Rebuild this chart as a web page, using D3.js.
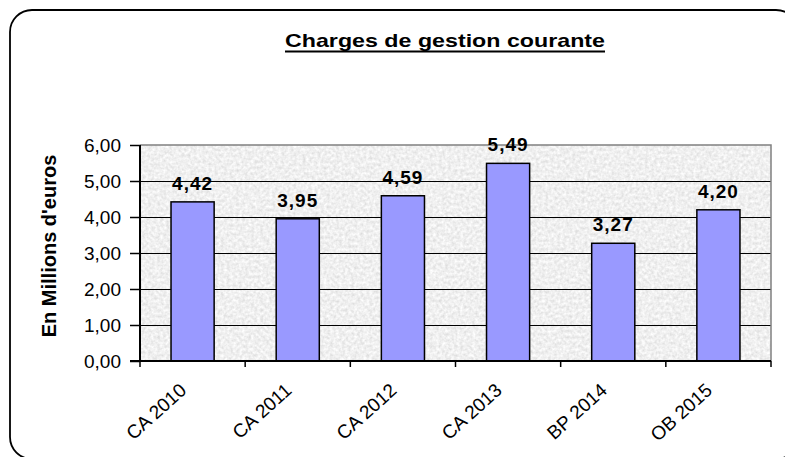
<!DOCTYPE html>
<html>
<head>
<meta charset="utf-8">
<script src="https://cdn.jsdelivr.net/npm/d3@7"></script>
<style>
  html, body { margin: 0; padding: 0; background: #fff; overflow: hidden; }
  svg { display: block; }
  text { font-family: Arial, "Liberation Sans", sans-serif; fill: #000; }
</style>
</head>
<body>
<svg id="chart" width="785" height="457"></svg>
<script>
const title = "Charges de gestion courante";
const yAxisTitle = "En Millions d'euros";
const categories = ["CA 2010", "CA 2011", "CA 2012", "CA 2013", "BP 2014", "OB 2015"];
const values = [4.42, 3.95, 4.59, 5.49, 3.27, 4.20];
const yTicks = [0, 1, 2, 3, 4, 5, 6];

const fmt = v => d3.format(".2f")(v).replace(".", ",");

const svg = d3.select("#chart");
const plot = { left: 140, right: 771, top: 145, bottom: 361 };

// outer rounded frame
svg.append("rect")
  .attr("x", 10).attr("y", 10).attr("width", 788).attr("height", 449)
  .attr("rx", 22).attr("ry", 22)
  .attr("fill", "#fff").attr("stroke", "#000").attr("stroke-width", 1.8);

// texture filter for plot background
const defs = svg.append("defs");
const f = defs.append("filter").attr("id", "granite")
  .attr("x", 0).attr("y", 0).attr("width", 1).attr("height", 1);
f.append("feTurbulence").attr("type", "fractalNoise")
  .attr("baseFrequency", 0.33).attr("numOctaves", 2).attr("seed", 5).attr("result", "n");
f.append("feColorMatrix").attr("in", "n").attr("type", "matrix")
  .attr("values", "0.4 0 0 0 0.67  0.4 0 0 0 0.67  0.4 0 0 0 0.67  0 0 0 0 1");

const x = d3.scaleBand().domain(categories).range([plot.left, plot.right]).padding(0);
const y = d3.scaleLinear().domain([0, 6]).range([plot.bottom, plot.top]);
const step = x.step();
const barW = step * 0.41;

svg.append("rect")
  .attr("x", plot.left).attr("y", plot.top)
  .attr("width", plot.right - plot.left).attr("height", plot.bottom - plot.top)
  .attr("fill", "#e6e6e6").attr("filter", "url(#granite)");

// gridlines
svg.append("g").selectAll("line").data(yTicks.filter(t => t > 0 && t < 6)).join("line")
  .attr("x1", plot.left).attr("x2", plot.right)
  .attr("y1", d => Math.round(y(d)) + 0.5).attr("y2", d => Math.round(y(d)) + 0.5)
  .attr("stroke", "#000").attr("stroke-width", 1.2);

// top & right plot border (gray)
svg.append("path")
  .attr("d", `M${plot.left},${y(6)}H${plot.right}V${plot.bottom}`)
  .attr("fill", "none").attr("stroke", "#808080").attr("stroke-width", 1.5);

// bars
svg.append("g").selectAll("rect").data(values).join("rect")
  .attr("x", (d, i) => x(categories[i]) + (step - barW) / 2)
  .attr("y", d => y(d))
  .attr("width", barW)
  .attr("height", d => y(0) - y(d))
  .attr("fill", "#9999FF").attr("stroke", "#000").attr("stroke-width", 1.5);

// value labels
svg.append("g").selectAll("text").data(values).join("text")
  .attr("x", (d, i) => x(categories[i]) + step / 2)
  .attr("y", d => y(d) - 12)
  .attr("text-anchor", "middle")
  .attr("font-size", 19).attr("font-weight", "bold")
  .attr("letter-spacing", 1)
  .text(d => fmt(d));

// y axis
const yAxis = d3.axisLeft(y).tickValues(yTicks).tickSize(10).tickPadding(9).tickFormat(fmt);
const yg = svg.append("g").attr("transform", `translate(${plot.left},0)`).call(yAxis);
yg.select(".domain").remove();
yg.selectAll(".tick line").attr("stroke", "#000").attr("stroke-width", 1.5);
yg.selectAll(".tick text").attr("font-size", 19).attr("font-family", "Arial, 'Liberation Sans', sans-serif").attr("fill", "#000");
svg.append("line")
  .attr("x1", plot.left).attr("x2", plot.left).attr("y1", plot.top).attr("y2", plot.bottom)
  .attr("stroke", "#000").attr("stroke-width", 2);

// x axis baseline and ticks at category boundaries
svg.append("line")
  .attr("x1", plot.left - 10).attr("x2", plot.right).attr("y1", plot.bottom).attr("y2", plot.bottom)
  .attr("stroke", "#000").attr("stroke-width", 2.2);
const bounds = categories.map(c => x(c)).concat([x(categories[categories.length - 1]) + step]);
svg.append("g").selectAll("line").data(bounds).join("line")
  .attr("x1", d => d).attr("x2", d => d)
  .attr("y1", plot.bottom).attr("y2", plot.bottom + 6)
  .attr("stroke", "#000").attr("stroke-width", 1.5);

// x labels rotated
svg.append("g").selectAll("text").data(categories).join("text")
  .attr("text-anchor", "end")
  .attr("font-size", 19)
  .attr("transform", d => `translate(${x(d) + step / 2 - 5},${plot.bottom + 31}) rotate(-42)`)
  .text(d => d);

// y axis title
svg.append("text")
  .attr("transform", `translate(56,${(plot.top + plot.bottom) / 2 - 7}) rotate(-90)`)
  .attr("text-anchor", "middle")
  .attr("font-size", 20).attr("font-weight", "bold")
  .text(yAxisTitle);

// title with underline
const t = svg.append("text")
  .attr("x", 445).attr("y", 47)
  .attr("text-anchor", "middle")
  .attr("font-size", 19).attr("font-weight", "bold")
  .attr("textLength", 320).attr("lengthAdjust", "spacingAndGlyphs")
  .text(title);
const bb = t.node().getBBox();
svg.append("line")
  .attr("x1", bb.x).attr("x2", bb.x + bb.width)
  .attr("y1", 51.5).attr("y2", 51.5)
  .attr("stroke", "#000").attr("stroke-width", 2);
</script>
</body>
</html>
